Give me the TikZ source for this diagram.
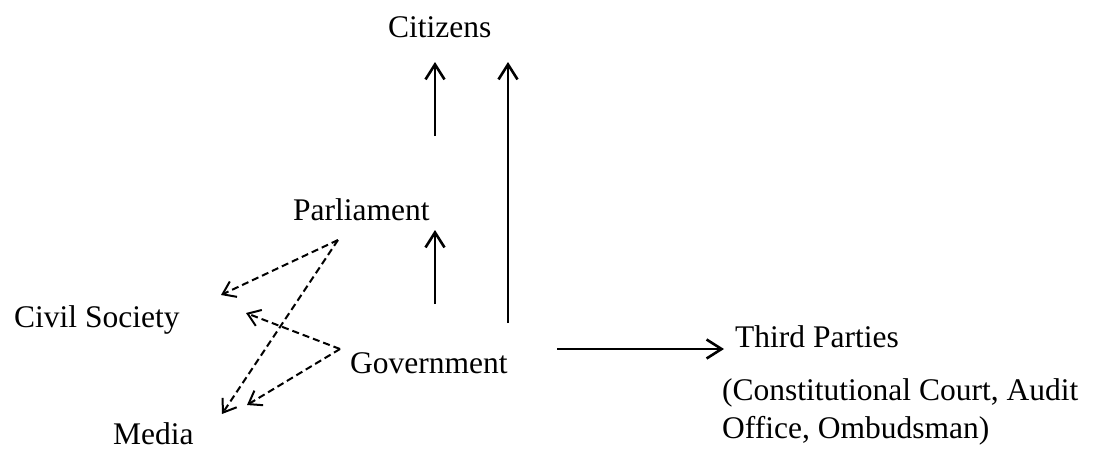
\documentclass[tikz,border=0pt]{standalone}
\usepackage{fontspec}
\setmainfont{Liberation Serif}
\usetikzlibrary{arrows.meta}
\begin{document}
\begin{tikzpicture}[x=1pt,y=-1pt,
  lbl/.style={anchor=base west,inner sep=0pt,font=\fontsize{31.5}{35}\selectfont},
  solidarrow/.style={line width=2.6pt,-{Straight Barb[length=15pt,width=19pt,line width=2.6pt]}},
  dasharrow/.style={line width=2pt,dash pattern=on 7pt off 4pt,-{Straight Barb[length=12pt,width=17pt,line width=2pt,sep=0pt]}}]
\useasboundingbox (0,0) rectangle (1097,448);
\node[lbl] (cit) at (388,37) {Citizens};
\node[lbl] (par) at (293,220) {Parliament};
\node[lbl] (civ) at (14,327) {Civil Society};
\node[lbl] (gov) at (350,373) {Government};
\node[lbl] (med) at (113,444) {Media};
\node[lbl] (tp) at (735,347) {Third Parties};
\node[lbl,align=left] (tpd) at (722,438) {(Constitutional Court, Audit\\[3pt]Office, Ombudsman)};
% solid arrow endpoints
\coordinate (a1s) at (435,136);
\coordinate (a1e) at (435,62);
\coordinate (a2s) at (508,323);
\coordinate (a2e) at (508,62);
\coordinate (a3s) at (435,304);
\coordinate (a3e) at (435,230);
\coordinate (hs) at (557,349);
\coordinate (he) at (724,349);
% dashed arrow endpoints
\coordinate (pd) at (338,240);
\coordinate (gd) at (340,349);
\coordinate (civa) at (221,295);
\coordinate (meda) at (222,414);
\coordinate (civb) at (246,313);
\coordinate (medb) at (247,405);
\draw[solidarrow] (a1s) -- (a1e);
\draw[solidarrow] (a2s) -- (a2e);
\draw[solidarrow] (a3s) -- (a3e);
\draw[solidarrow] (hs) -- (he);
\draw[dasharrow] (pd) -- (civa);
\draw[dasharrow] (pd) -- (meda);
\draw[dasharrow] (gd) -- (civb);
\draw[dasharrow] (gd) -- (medb);
\end{tikzpicture}
\end{document}
